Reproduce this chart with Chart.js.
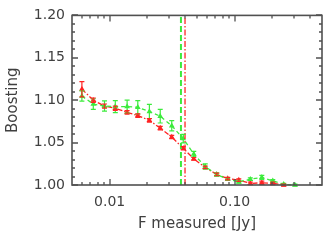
<!DOCTYPE html>
<html>
<head>
<meta charset="utf-8">
<script src="https://cdn.jsdelivr.net/npm/chart.js@4.4.0/dist/chart.umd.min.js"></script>
<style>
  html, body { margin: 0; padding: 0; background: #fff; }
  canvas { display: block; }
</style>
</head>
<body>
<canvas id="grafico1" width="330" height="245"></canvas>
<script>
// valores
const fluxRed = [0.0060, 0.0074, 0.0091, 0.0111, 0.0138, 0.0168, 0.0208, 0.0254, 0.0314, 0.0388,
  0.0471, 0.0582, 0.0719, 0.0880, 0.108, 0.1335, 0.165, 0.202, 0.247];
const boostRed = [1.113, 1.100, 1.093, 1.0905, 1.0856, 1.0818, 1.0762, 1.0671, 1.0566, 1.0433,
  1.0309, 1.0207, 1.0124, 1.0075, 1.0057, 1.0019, 1.0026, 1.002, 1.000];
const errRed = [0.009, 0.0026, 0.0025, 0.0025, 0.002, 0.002, 0.002, 0.002, 0.002, 0.002,
  0.0015, 0.0015, 0.0015, 0.0015, 0.0015, 0.0015, 0.002, 0.0015, 0.001];

const fluxGreen = [0.0060, 0.0074, 0.0091, 0.0111, 0.0138, 0.0168, 0.0208, 0.0254, 0.0314, 0.0388,
  0.0471, 0.0582, 0.0719, 0.0880, 0.108, 0.1335, 0.165, 0.202, 0.247, 0.304];
const boostGreen = [1.1049, 1.0954, 1.0931, 1.0924, 1.0924, 1.0916, 1.0867, 1.0811, 1.0698, 1.0547,
  1.0365, 1.0218, 1.0124, 1.0068, 1.0038, 1.0068, 1.009, 1.0049, 1.0008, 1.000];
const errGreen = [0.006, 0.0063, 0.006, 0.007, 0.0077, 0.008, 0.0083, 0.008, 0.006, 0.005,
  0.0032, 0.003, 0.002, 0.0015, 0.0015, 0.0015, 0.0023, 0.0015, 0.001, 0.001];

// linhas verticais (limites)
const limitGreen = 0.0372;
const limitRed = 0.0401;

// ticks
const xTicks = [0.01, 0.1];
const xMinor = [0.006, 0.007, 0.008, 0.009, 0.02, 0.03, 0.04, 0.05, 0.06, 0.07, 0.08, 0.09, 0.2, 0.3, 0.4];
const yTicks = [1.00, 1.05, 1.10, 1.15, 1.20];
const yMinor = [1.01, 1.02, 1.03, 1.04, 1.06, 1.07, 1.08, 1.09, 1.11, 1.12, 1.13, 1.14, 1.16, 1.17, 1.18, 1.19];

const RED = 'rgb(255,35,35)';
const GREEN = 'rgb(60,235,60)';
const AXIS = '#505050';
const TEXT = '#404040';

const toPts = (xs, ys) => xs.map((x, i) => ({ x: x, y: ys[i] }));

// barras de erro, moldura e ticks para dentro
const extras = {
  id: 'extras',
  afterDatasetsDraw(chart) {
    const c = chart.ctx;
    const sx = chart.scales.x, sy = chart.scales.y;
    const bars = [[fluxGreen, boostGreen, errGreen, GREEN], [fluxRed, boostRed, errRed, RED]];
    c.save();
    c.lineWidth = 1.2;
    bars.forEach(([xs, ys, es, col]) => {
      c.strokeStyle = col;
      xs.forEach((x, i) => {
        const px = sx.getPixelForValue(x);
        const y1 = sy.getPixelForValue(ys[i] + es[i]);
        const y2 = sy.getPixelForValue(ys[i] - es[i]);
        c.beginPath();
        c.moveTo(px, y1); c.lineTo(px, y2);
        c.moveTo(px - 2.5, y1); c.lineTo(px + 2.5, y1);
        c.moveTo(px - 2.5, y2); c.lineTo(px + 2.5, y2);
        c.stroke();
      });
    });
    c.restore();
  },
  afterDraw(chart) {
    const c = chart.ctx;
    const a = chart.chartArea;
    const sx = chart.scales.x, sy = chart.scales.y;
    c.save();
    c.setLineDash([]);
    c.strokeStyle = AXIS;
    c.lineWidth = 1.3;
    c.beginPath();
    xTicks.forEach(v => {
      const p = Math.round(sx.getPixelForValue(v));
      c.moveTo(p, a.bottom); c.lineTo(p, a.bottom - 6);
      c.moveTo(p, a.top); c.lineTo(p, a.top + 6);
    });
    xMinor.forEach(v => {
      const p = Math.round(sx.getPixelForValue(v));
      c.moveTo(p, a.bottom); c.lineTo(p, a.bottom - 3);
      c.moveTo(p, a.top); c.lineTo(p, a.top + 3);
    });
    yTicks.forEach(v => {
      const p = Math.round(sy.getPixelForValue(v));
      c.moveTo(a.left, p); c.lineTo(a.left + 6, p);
      c.moveTo(a.right, p); c.lineTo(a.right - 6, p);
    });
    yMinor.forEach(v => {
      const p = Math.round(sy.getPixelForValue(v));
      c.moveTo(a.left, p); c.lineTo(a.left + 3, p);
      c.moveTo(a.right, p); c.lineTo(a.right - 3, p);
    });
    c.stroke();
    c.lineWidth = 1.6;
    c.strokeRect(a.left, a.top, a.right - a.left, a.bottom - a.top);
    c.restore();
  }
};

const ctx = document.getElementById('grafico1').getContext('2d');
new Chart(ctx, {
  type: 'line',
  data: {
    datasets: [
      {
        data: [{ x: limitGreen, y: 1.0 }, { x: limitGreen, y: 1.2 }],
        borderColor: GREEN, borderWidth: 2, borderDash: [6, 3],
        pointRadius: 0
      },
      {
        data: [{ x: limitRed, y: 1.0 }, { x: limitRed, y: 1.2 }],
        borderColor: RED, borderWidth: 1.3, borderDash: [6, 2, 1.5, 2],
        pointRadius: 0
      },
      {
        data: toPts(fluxGreen, boostGreen),
        borderColor: GREEN, backgroundColor: GREEN,
        borderWidth: 1.3, borderDash: [4, 3],
        pointRadius: 2, pointStyle: 'triangle',
        clip: false
      },
      {
        data: toPts(fluxRed, boostRed),
        borderColor: RED, backgroundColor: RED,
        borderWidth: 1.3, borderDash: [5, 2, 1.5, 2],
        pointRadius: 2, pointStyle: 'triangle',
        clip: false
      }
    ]
  },
  options: {
    responsive: false,
    animation: false,
    events: [],
    layout: { padding: { top: 8, right: 8, left: 0, bottom: 0 } },
    plugins: { legend: { display: false }, tooltip: { enabled: false } },
    scales: {
      x: {
        type: 'logarithmic',
        min: 0.005,
        max: 0.5,
        afterBuildTicks: s => { s.ticks = xTicks.map(v => ({ value: v })); },
        afterFit: s => { s.height = 60; },
        grid: { display: false, drawTicks: false },
        border: { display: false },
        ticks: {
          autoSkip: false, maxRotation: 0, padding: 9,
          color: TEXT, font: { family: 'DejaVu Sans', size: 14 },
          callback: v => Number(v).toFixed(2)
        },
        title: {
          display: true, text: 'F measured [Jy]', color: TEXT,
          font: { family: 'DejaVu Sans', size: 15 },
          padding: { top: 0, bottom: 12 }
        }
      },
      y: {
        type: 'linear',
        min: 1.0,
        max: 1.2,
        afterBuildTicks: s => { s.ticks = yTicks.map(v => ({ value: v })); },
        afterFit: s => { s.width = 72; },
        grid: { display: false, drawTicks: false },
        border: { display: false },
        ticks: {
          autoSkip: false, padding: 7,
          color: TEXT, font: { family: 'DejaVu Sans', size: 14 },
          callback: v => Number(v).toFixed(2)
        },
        title: {
          display: true, text: 'Boosting', color: TEXT,
          font: { family: 'DejaVu Sans', size: 15 },
          padding: { top: 4, bottom: 0 }
        }
      }
    }
  },
  plugins: [extras]
});
</script>
</body>
</html>
